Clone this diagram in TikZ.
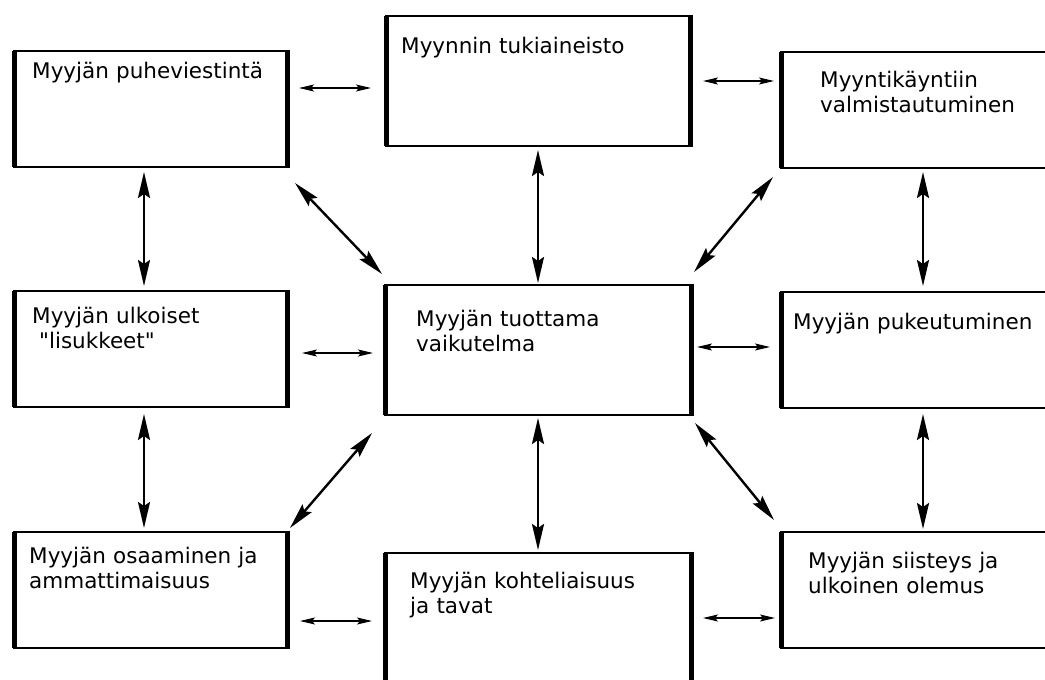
\documentclass[tikz,border=0pt]{standalone}
\usepackage{fontspec}
\setmainfont{DejaVu Sans}
\usetikzlibrary{arrows.meta}

% straight double quote, not touched by the TeX mapping
\newcommand{\sdq}{{\XeTeXglyph\the\XeTeXcharglyph"22\relax}}

\tikzset{
  box/.style={draw, line width=2.8pt, inner sep=0pt, outer sep=0pt, anchor=north west},
  side/.style={line width=5pt, shorten <=-1.4pt, shorten >=-1.4pt},
  txt/.style={anchor=base west, inner sep=0pt, text width=260pt, align=left,
    font=\fontsize{21.5}{25}\selectfont},
  bigarr/.style={{Stealth[length=26pt,width=12pt,inset=4pt]}-{Stealth[length=26pt,width=12pt,inset=4pt]}, line width=2.4pt},
  smallarr/.style={{Stealth[length=15pt,width=7pt,inset=3pt]}-{Stealth[length=15pt,width=7pt,inset=3pt]}, line width=1.3pt}
}

\begin{document}
\begin{tikzpicture}[x=1pt,y=-1pt]
        \useasboundingbox (0,0) rectangle (1045,680);
        \clip (0,0) rectangle (1045,680);

        % Draw the boxes
        \node[box, minimum width=273pt, minimum height=116pt] (tl) at (14,51) {};
        \node[box, minimum width=304pt, minimum height=130pt] (tm) at (386,16) {};
        \node[box, minimum width=284pt, minimum height=116pt] (tr) at (781,52) {};
        \node[box, minimum width=273pt, minimum height=116pt] (ml) at (14,291) {};
        \node[box, minimum width=306pt, minimum height=130pt] (c) at (385,285) {};
        \node[box, minimum width=284pt, minimum height=116pt] (mr) at (781,292) {};
        \node[box, minimum width=273pt, minimum height=116pt] (bl) at (14,532) {};
        \node[box, minimum width=306pt, minimum height=150pt] (bm) at (385,553) {};
        \node[box, minimum width=284pt, minimum height=116pt] (br) at (781,532) {};

        % Thick left and right sides
        \foreach \n in {tl,tm,tr,ml,c,mr,bl,bm,br}
          \draw[side] (\n.north west) -- (\n.south west) (\n.north east) -- (\n.south east);

        % Labels
        \node[txt] (tltext) at ([shift={(18,27)}]tl.north west) {Myyjän puheviestintä};
        \node[txt] (tmtext) at ([shift={(15,37)}]tm.north west) {Myynnin tukiaineisto};
        \node[txt] (trtext) at ([shift={(39,35)}]tr.north west) {Myyntikäyntiin\\valmistautuminen};
        \node[txt] (mltext) at ([shift={(18,32)}]ml.north west) {Myyjän ulkoiset\\\hspace*{7pt}\sdq lisukkeet\sdq};
        \node[txt] (ctext) at ([shift={(31,41)}]c.north west) {Myyjän tuottama\\vaikutelma};
        \node[txt] (mrtext) at ([shift={(12,37)}]mr.north west) {Myyjän pukeutuminen};
        \node[txt] (bltext) at ([shift={(15,31)}]bl.north west) {Myyjän osaaminen ja\\ammattimaisuus};
        \node[txt] (bmtext) at ([shift={(25,35)}]bm.north west) {Myyjän kohteliaisuus\\ja tavat};
        \node[txt] (brtext) at ([shift={(27,36)}]br.north west) {Myyjän siisteys ja\\ulkoinen olemus};

        % Horizontal arrows
        \draw[smallarr] ([shift={(12,-21)}]tl.east) -- ([shift={(-15,7)}]tm.west);
        \draw[smallarr] ([shift={(13,0)}]tm.east) -- ([shift={(-7,-29)}]tr.west);
        \draw[smallarr] ([shift={(15,4)}]ml.east) -- ([shift={(-12,3)}]c.west);
        \draw[smallarr] ([shift={(6,-3)}]c.east) -- ([shift={(-11,-3)}]mr.west);
        \draw[smallarr] ([shift={(13,31)}]bl.east) -- ([shift={(-13,-7)}]bm.west);
        \draw[smallarr] ([shift={(12,-10)}]bm.east) -- ([shift={(-6,28)}]br.west);

        % Vertical arrows
        \draw[bigarr] ([shift={(-6.5,5)}]tl.south) -- ([shift={(-6.5,-5)}]ml.north);
        \draw[bigarr] ([shift={(-6.5,7)}]ml.south) -- ([shift={(-6.5,-4)}]bl.north);
        \draw[bigarr] ([shift={(0,4)}]tm.south) -- ([shift={(0,-2)}]c.north);
        \draw[bigarr] ([shift={(0,3)}]c.south) -- ([shift={(0,-3)}]bm.north);
        \draw[bigarr] ([shift={(0,4)}]tr.south) -- ([shift={(0,-6)}]mr.north);
        \draw[bigarr] ([shift={(0,6)}]mr.south) -- ([shift={(0,-3)}]br.north);

        % Diagonal arrows
        \draw[bigarr] ([shift={(8,16)}]tl.south east) -- ([shift={(-3,-11)}]c.north west);
        \draw[bigarr] ([shift={(-8,9)}]tr.south west) -- ([shift={(3,-13)}]c.north east);
        \draw[bigarr] ([shift={(3,-4)}]bl.north east) -- ([shift={(-13,18)}]c.south west);
        \draw[bigarr] ([shift={(4,8)}]c.south east) -- ([shift={(-7,-12)}]br.north west);
    \end{tikzpicture}
\end{document}
